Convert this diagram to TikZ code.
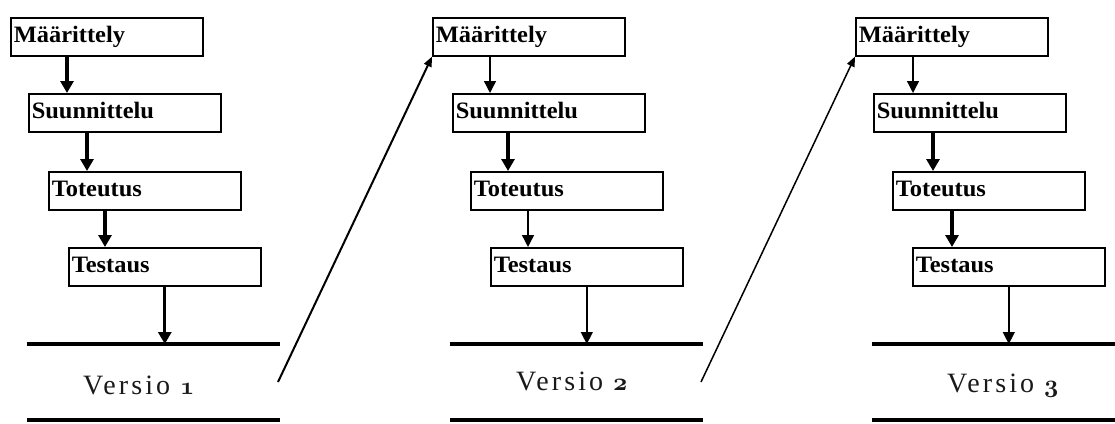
\documentclass[tikz,border=0pt]{standalone}
\usepackage{fontspec}
\usepackage{tikz}
\usetikzlibrary{arrows.meta}
\newfontfamily\boxfont[FakeStretch=1.04]{Liberation Serif Bold}
\newfontfamily\versiofont[LetterSpace=11]{Liberation Serif}
\newcommand{\vnum}[1]{{\usefont{OML}{cmm}{b}{it}#1}}

\begin{document}
\begin{tikzpicture}[x=1pt,y=-1pt,
  stagebox/.style={draw,line width=1.6pt,anchor=north west,inner xsep=3pt,inner ysep=0pt,text width=186pt,minimum height=38pt,text height=16pt,text depth=4pt,align=left,font=\boxfont\fontsize{23.5}{26}\selectfont},
  versio/.style={anchor=base west,inner sep=0pt,text=black!90,font=\versiofont\fontsize{28}{32}\selectfont},
  boldarrow/.style={line width=3.2pt,-{Triangle[length=12pt,width=13pt]}},
  thinarrow/.style={line width=1.4pt,-{Triangle[length=12pt,width=12pt]}},
  versioline/.style={line width=3.5pt},
  jumparrow/.style={line width=2pt,-{Triangle[length=10pt,width=8pt]}}]
  \useasboundingbox (0,0) rectangle (1115,423);

  % versio 1
  \node[stagebox] (m1) at (10,17) {Määrittely};
  \node[stagebox] (s1) at (28,93) {Suunnittelu};
  \node[stagebox] (t1) at (48,171) {Toteutus};
  \node[stagebox] (te1) at (68,247) {Testaus};
  \coordinate (l1a) at (27,344);
  \coordinate (l1b) at (280,344);
  \coordinate (k1a) at (27,420);
  \coordinate (k1b) at (280,420);
  \node[versio] (v1) at (83,394) {Versio \vnum{1}};

  % versio 2
  \node[stagebox] (m2) at (432,17) {Määrittely};
  \node[stagebox] (s2) at (452,93) {Suunnittelu};
  \node[stagebox] (t2) at (470,171) {Toteutus};
  \node[stagebox] (te2) at (490,247) {Testaus};
  \coordinate (l2a) at (450,344);
  \coordinate (l2b) at (703,344);
  \coordinate (k2a) at (450,420);
  \coordinate (k2b) at (703,420);
  \node[versio] (v2) at (516,390) {Versio \vnum{2}};

  % versio 3
  \node[stagebox] (m3) at (855,17) {Määrittely};
  \node[stagebox] (s3) at (873,93) {Suunnittelu};
  \node[stagebox] (t3) at (892,171) {Toteutus};
  \node[stagebox] (te3) at (912,247) {Testaus};
  \coordinate (l3a) at (872,344);
  \coordinate (l3b) at (1115,344);
  \coordinate (k3a) at (872,420);
  \coordinate (k3b) at (1115,420);
  \node[versio] (v3) at (947,392) {Versio \vnum{3}};

  \draw[boldarrow] ([xshift=57pt]m1.south west) coordinate (a) -- (a |- s1.north);
  \draw[boldarrow] ([xshift=59pt]s1.south west) coordinate (a) -- (a |- t1.north);
  \draw[boldarrow] ([xshift=57pt]t1.south west) coordinate (a) -- (a |- te1.north);
  \draw[boldarrow] (te1.south) -- (te1.south |- l1a);

  \draw[thinarrow] ([xshift=58pt]m2.south west) coordinate (a) -- (a |- s2.north);
  \draw[boldarrow] ([xshift=56pt]s2.south west) coordinate (a) -- (a |- t2.north);
  \draw[thinarrow] ([xshift=58pt]t2.south west) coordinate (a) -- (a |- te2.north);
  \draw[thinarrow] (te2.south) -- (te2.south |- l2a);

  \draw[thinarrow] ([xshift=58pt]m3.south west) coordinate (a) -- (a |- s3.north);
  \draw[boldarrow] ([xshift=60pt]s3.south west) coordinate (a) -- (a |- t3.north);
  \draw[boldarrow] ([xshift=60pt]t3.south west) coordinate (a) -- (a |- te3.north);
  \draw[thinarrow] (te3.south) -- (te3.south |- l3a);

  \draw[versioline] (l1a) -- (l1b);
  \draw[versioline] (k1a) -- (k1b);
  \draw[versioline] (l2a) -- (l2b);
  \draw[versioline] (k2a) -- (k2b);
  \draw[versioline] (l3a) -- (l3b);
  \draw[versioline] (k3a) -- (k3b);

  \coordinate (d1) at (278,382);
  \coordinate (d2) at (701,382);
  \draw[jumparrow] (d1) -- (m2.south west);
  \draw[jumparrow,line width=1.5pt] (d2) -- (m3.south west);
\end{tikzpicture}
\end{document}
